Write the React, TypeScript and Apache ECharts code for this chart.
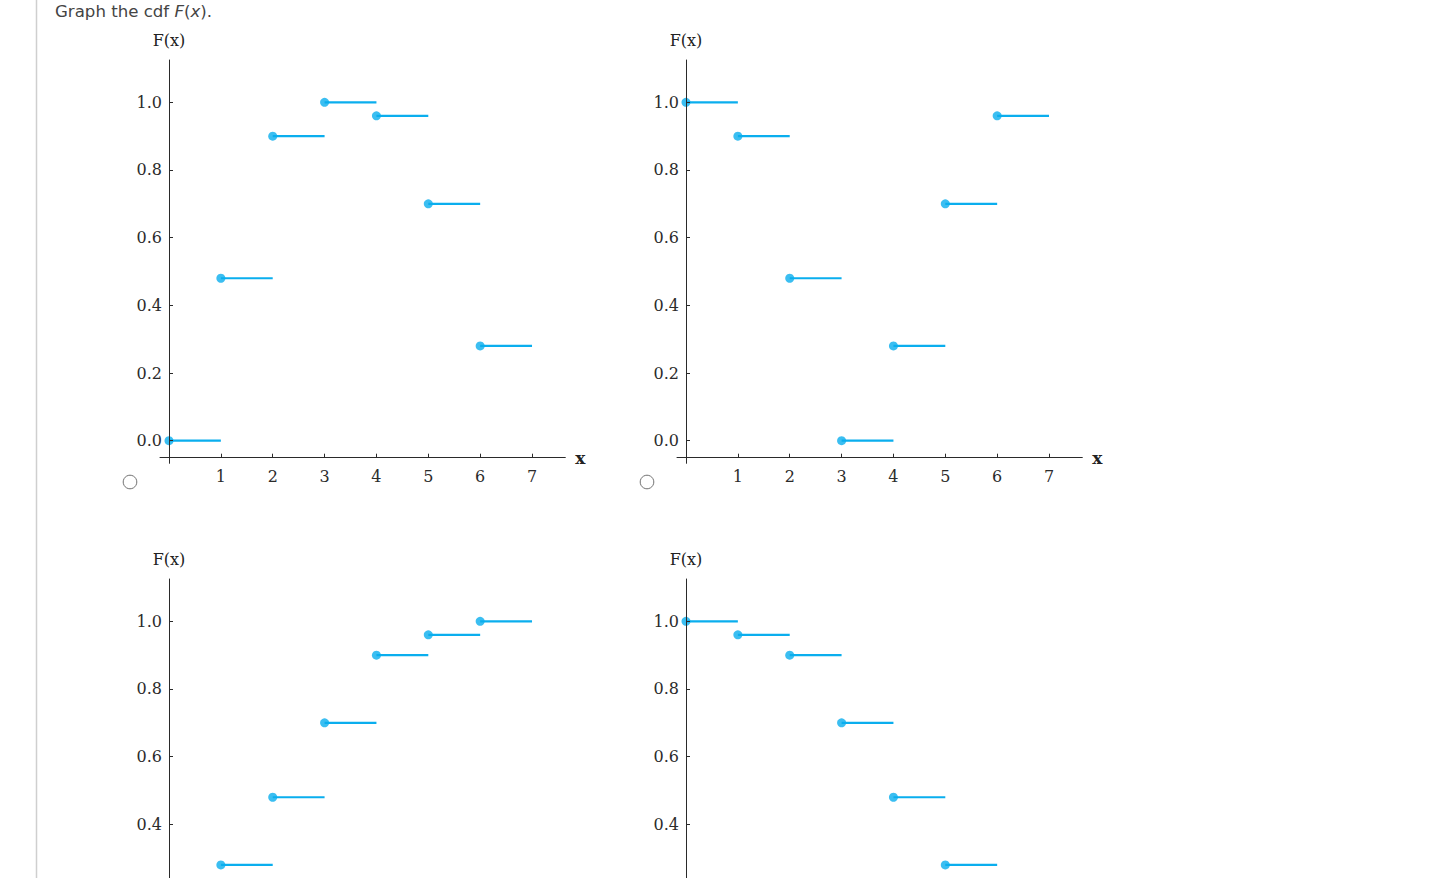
import React, { useEffect, useRef } from 'react';
import * as echarts from 'echarts';

// ---- data ----
const xSteps = [0, 1, 2, 3, 4, 5, 6];
const cdfTopLeft = [0.0, 0.48, 0.9, 1.0, 0.96, 0.7, 0.28];
const cdfTopRight = [1.0, 0.9, 0.48, 0.0, 0.28, 0.7, 0.96];
const cdfBottomLeft = [0.0, 0.28, 0.48, 0.7, 0.9, 0.96, 1.0];
const cdfBottomRight = [1.0, 0.96, 0.9, 0.7, 0.48, 0.28, 0.0];
const xTickValues = [1, 2, 3, 4, 5, 6, 7];
const yTickValues = [0, 0.2, 0.4, 0.6, 0.8, 1.0];
const yAxisName = 'F(x)';
const xAxisName = 'x';

const STEP_COLOR = '#0aaeee';
const AXIS_COLOR = '#2a2a2a';
const LABEL_COLOR = '#2b2b2b';
const SERIF = '"DejaVu Serif", serif';
const PAGE_H = 878;

export default function App() {
  const ref = useRef<HTMLDivElement>(null);

  useEffect(() => {
    if (!ref.current) return;
    const chart = echarts.init(ref.current, null, { renderer: 'svg' });

    const panels = [cdfTopLeft, cdfTopRight, cdfBottomLeft, cdfBottomRight];
    const PX = 51.86; // px per x unit
    const PY = 338.4; // px per y unit
    const grids: any[] = [];
    const xAxes: any[] = [];
    const yAxes: any[] = [];
    const series: any[] = [];

    panels.forEach((vals, i) => {
      const col = i % 2;
      const row = Math.floor(i / 2);
      const ox = 169 + 517 * col;
      const oy1 = 102.3 + 519 * row;
      const left = 160 + 517 * col;
      const right = 565.3 + 517 * col;
      const top = 60 + 519 * row;
      const bottom = Math.min(463.3 + 519 * row, PAGE_H);
      const showX = row === 0;
      const yMin = 1 - (bottom - oy1) / PY;
      const yTicks = yTickValues.filter((v) => v >= yMin);

      grids.push({
        left,
        top,
        width: right - left,
        height: bottom - top,
        containLabel: false,
        outerBoundsMode: 'none',
      });

      xAxes.push({
        type: 'value',
        gridIndex: i,
        show: showX,
        min: (left - ox) / PX,
        max: (right - ox) / PX,
        offset: -5.6,
        z: 5,
        axisLine: { onZero: false, lineStyle: { color: AXIS_COLOR, width: 1 } },
        axisTick: {
          show: true,
          inside: true,
          length: 4,
          customValues: xTickValues,
          lineStyle: { color: AXIS_COLOR, width: 1 },
        },
        axisLabel: {
          customValues: xTickValues,
          margin: 11,
          fontFamily: SERIF,
          fontSize: 16,
          color: LABEL_COLOR,
        },
        splitLine: { show: false },
        name: showX ? xAxisName : '',
        nameLocation: 'end',
        nameGap: 10,
        nameTextStyle: {
          fontFamily: SERIF,
          fontSize: 17,
          fontWeight: 'bold',
          color: '#222',
          verticalAlign: 'middle',
          padding: [5, 0, 0, 0],
        },
      });

      yAxes.push({
        type: 'value',
        gridIndex: i,
        min: yMin,
        max: 1 + (oy1 - top) / PY,
        z: 5,
        axisLine: { onZero: true, lineStyle: { color: AXIS_COLOR, width: 1 } },
        axisTick: {
          show: true,
          inside: true,
          length: 4,
          customValues: yTicks,
          lineStyle: { color: AXIS_COLOR, width: 1 },
        },
        axisLabel: {
          customValues: yTicks,
          formatter: (v: number) => v.toFixed(1),
          margin: -2,
          fontFamily: SERIF,
          fontSize: 16,
          color: LABEL_COLOR,
        },
        splitLine: { show: false },
        name: yAxisName,
        nameLocation: 'end',
        nameGap: 12,
        nameTextStyle: {
          fontFamily: SERIF,
          fontSize: 16,
          color: '#222',
          align: 'center',
        },
      });

      xSteps.forEach((k) => {
        series.push({
          type: 'line',
          xAxisIndex: i,
          yAxisIndex: i,
          data: [
            [k, vals[k]],
            [k + 1, vals[k]],
          ],
          showSymbol: false,
          silent: true,
          z: 2,
          lineStyle: { color: STEP_COLOR, width: 2.2 },
        });
      });

      series.push({
        type: 'scatter',
        xAxisIndex: i,
        yAxisIndex: i,
        data: xSteps.map((k) => [k, vals[k]]),
        symbol: 'circle',
        symbolSize: 9,
        silent: true,
        clip: true,
        z: 2,
        itemStyle: { color: STEP_COLOR },
      });
    });

    chart.setOption({
      animation: false,
      backgroundColor: '#fff',
      grid: grids,
      xAxis: xAxes,
      yAxis: yAxes,
      series,
      graphic: [
        {
          type: 'line',
          shape: { x1: 36.5, y1: 0, x2: 36.5, y2: PAGE_H },
          style: { stroke: '#cfcfcf', lineWidth: 1.5 },
          silent: true,
        },
        {
          type: 'text',
          x: 55,
          y: 11,
          style: {
            text: '{n|Graph the cdf }{i|F}{n|(}{i|x}{n|).}',
            verticalAlign: 'middle',
            rich: {
              n: {
                fontFamily: '"DejaVu Sans", Verdana, sans-serif',
                fontSize: 16.6,
                fill: '#444',
              },
              i: {
                fontFamily: '"DejaVu Sans", Verdana, sans-serif',
                fontSize: 16.6,
                fontStyle: 'italic',
                fill: '#444',
              },
            },
          },
        },
        {
          type: 'circle',
          shape: { cx: 130, cy: 482, r: 6.8 },
          style: { fill: '#fff', stroke: '#707070', lineWidth: 1 },
        },
        {
          type: 'circle',
          shape: { cx: 647, cy: 482, r: 6.8 },
          style: { fill: '#fff', stroke: '#707070', lineWidth: 1 },
        },
      ],
    });

    return () => chart.dispose();
  }, []);

  return (
    <div
      ref={ref}
      style={{ position: 'absolute', left: 0, top: 0, width: 1451, height: PAGE_H }}
    />
  );
}
